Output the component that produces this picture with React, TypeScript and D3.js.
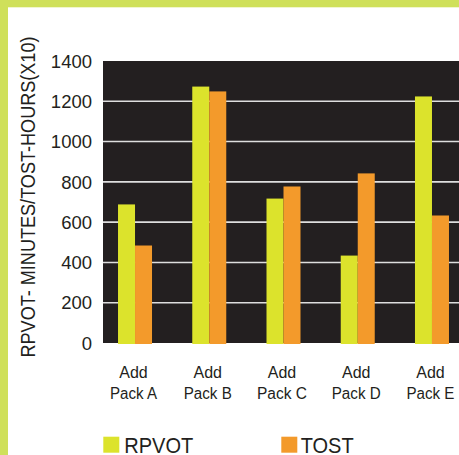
import React from "react";
import * as d3 from "d3";

const categories = ["Pack A", "Pack B", "Pack C", "Pack D", "Pack E"];
const seriesNames = ["RPVOT", "TOST"];
const rpvot = [688, 1273, 717, 434, 1224];
const tost = [484, 1249, 777, 842, 633];
const yTicks = [0, 200, 400, 600, 800, 1000, 1200, 1400];
const categoryLabelWidths = [47, 48, 50, 49, 48];

const W = 459;
const H = 455;
const plot = { left: 103, top: 61, right: 459, bottom: 343 };

const COLORS = {
  frame: "#cfe05a",
  plotBg: "#231f20",
  grid: "#dedede",
  text: "#231f20",
  RPVOT: "#dce32c",
  TOST: "#f39a2b",
};

export default function App() {
  const y = d3.scaleLinear().domain([0, 1400]).range([plot.bottom, plot.top]);
  const x = d3
    .scaleBand<string>()
    .domain(categories)
    .range([97.9, 469.1])
    .paddingInner(0)
    .paddingOuter(0);
  const inner = d3.scaleBand<string>().domain(seriesNames).range([0, 34]);

  const rows = categories.map((c, i) => ({ c, RPVOT: rpvot[i], TOST: tost[i] }));

  return (
    <svg
      width={W}
      height={H}
      style={{ position: "absolute", left: 0, top: 0, background: "#fff" }}
      fontFamily="Liberation Sans, Arial, sans-serif"
    >
      <defs>
        <clipPath id="plotClip">
          <rect x={plot.left} y={plot.top} width={plot.right - plot.left} height={plot.bottom - plot.top + 2} />
        </clipPath>
      </defs>
      {/* frame */}
      <rect x={0} y={0} width={W} height={7.3} fill={COLORS.frame} />
      <rect x={0} y={0} width={8} height={H} fill={COLORS.frame} />

      {/* plot background */}
      <rect
        x={plot.left}
        y={plot.top}
        width={plot.right - plot.left}
        height={plot.bottom - plot.top}
        fill={COLORS.plotBg}
      />

      {/* gridlines */}
      {yTicks
        .filter((t) => t > 0 && t < 1400)
        .map((t) => (
          <line
            key={t}
            x1={plot.left}
            x2={plot.right}
            y1={y(t)}
            y2={y(t)}
            stroke={COLORS.grid}
            strokeWidth={1.6}
          />
        ))}

      {/* bars */}
      <g clipPath="url(#plotClip)">
        {rows.map((r) => {
          const cx = (x(r.c) as number) + x.bandwidth() / 2 - 17;
          return seriesNames.map((s) => {
            const v = (r as any)[s] as number;
            return (
              <rect
                key={r.c + s}
                x={cx + (inner(s) as number)}
                y={y(v)}
                width={inner.bandwidth()}
                height={y(0) - y(v) + 1}
                fill={(COLORS as any)[s]}
              />
            );
          });
        })}
      </g>

      {/* y tick labels */}
      {yTicks.map((t) => (
        <text
          key={t}
          x={92}
          y={y(t)}
          dy="0.36em"
          textAnchor="end"
          fontSize={18.5}
          fill={COLORS.text}
        >
          {t}
        </text>
      ))}

      {/* category labels */}
      {categories.map((c, i) => {
        const cx = (x(c) as number) + x.bandwidth() / 2 - 1.5;
        return (
          <g key={c}>
            <text x={cx} y={378} textAnchor="middle" fontSize={16} fill={COLORS.text}>
              Add
            </text>
            <text
              x={cx}
              y={399}
              textAnchor="middle"
              fontSize={16}
              fill={COLORS.text}
              textLength={categoryLabelWidths[i]}
              lengthAdjust="spacingAndGlyphs"
            >
              {c}
            </text>
          </g>
        );
      })}

      {/* y axis title */}
      <text
        transform="translate(35,197) rotate(-90)"
        textAnchor="middle"
        fontSize={19.5}
        fill={COLORS.text}
        textLength={321}
        lengthAdjust="spacingAndGlyphs"
      >
        RPVOT- MINUTES/TOST-HOURS(X10)
      </text>

      {/* legend */}
      <rect x={103.3} y={436.7} width={16} height={16} fill={COLORS.RPVOT} />
      <text x={124.3} y={453.3} fontSize={21.5} fill={COLORS.text} textLength={69} lengthAdjust="spacingAndGlyphs">
        RPVOT
      </text>
      <rect x={281.3} y={436.7} width={16} height={16} fill={COLORS.TOST} />
      <text x={300.7} y={453.3} fontSize={21.5} fill={COLORS.text} textLength={53} lengthAdjust="spacingAndGlyphs">
        TOST
      </text>
    </svg>
  );
}
